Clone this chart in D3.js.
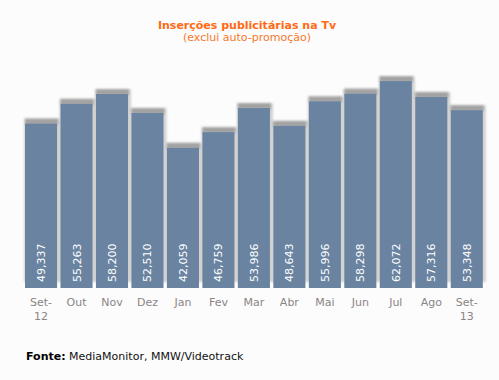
<!DOCTYPE html>
<html><head><meta charset="utf-8">
<script src="https://cdn.jsdelivr.net/npm/d3@7"></script>
<style>
html,body{margin:0;padding:0;background:#fcfcfc;}
svg{display:block;font-family:"DejaVu Sans",Verdana,sans-serif;}
</style></head>
<body>
<script>
const categories = [["Set-","12"],["Out"],["Nov"],["Dez"],["Jan"],["Fev"],["Mar"],["Abr"],["Mai"],["Jun"],["Jul"],["Ago"],["Set-","13"]];
const values = [49337,55263,58200,52510,42059,46759,53986,48643,55996,58298,62072,57316,53348];
const title = "Inserções publicitárias na Tv";
const subtitle = "(exclui auto-promoção)";
const sourceLabel = "Fonte:";
const sourceText = " MediaMonitor, MMW/Videotrack";

const W = 499, H = 380;
const svg = d3.select("body").append("svg").attr("width", W).attr("height", H);
svg.append("rect").attr("width", W).attr("height", H).attr("fill", "#fcfcfc");

const defs = svg.append("defs");
defs.append("filter").attr("id","blur").attr("x","-20%").attr("y","-20%").attr("width","140%").attr("height","140%")
  .append("feGaussianBlur").attr("stdDeviation", 0.8);

const idx = d3.range(values.length);
const x = d3.scaleBand().domain(idx).range([25, 482.8]).paddingInner(0.096).paddingOuter(0);
const y = d3.scaleLinear().domain([0, 70000]).range([288, 54.67]);
const bw = x.bandwidth();

svg.append("text").attr("x", 247).attr("y", 29).attr("text-anchor","middle")
  .attr("font-size", 11).attr("font-weight","bold").attr("fill","#ff6a13").text(title);
svg.append("text").attr("x", 247).attr("y", 41).attr("text-anchor","middle")
  .attr("font-size", 11).attr("fill","#f7782a").text(subtitle);

const sh = svg.append("g").attr("filter","url(#blur)");
sh.selectAll("rect.side").data(idx).join("rect").attr("class","side")
  .attr("x", i => x(i) - 1).attr("y", i => y(values[i]) - 5)
  .attr("width", bw + 4).attr("height", i => y(0) - 6 - (y(values[i]) - 5))
  .attr("fill", "#d2d2d2");
sh.selectAll("rect.top").data(idx).join("rect").attr("class","top")
  .attr("x", i => x(i)).attr("y", i => y(values[i]) - 5)
  .attr("width", bw + 1).attr("height", 6)
  .attr("fill", "#a2a2a2");

svg.append("g").selectAll("rect").data(idx).join("rect")
  .attr("x", i => x(i)).attr("y", i => y(values[i]))
  .attr("width", bw).attr("height", i => y(0) - y(values[i]))
  .attr("fill", "#6983a0");

const fmt = d3.format(",");
svg.append("g").selectAll("text").data(idx).join("text")
  .attr("transform", i => `translate(${x(i) + bw/2 + 4},282) rotate(-90)`)
  .attr("font-size", 11).attr("fill", "#ffffff")
  .text(i => fmt(values[i]));

const lab = svg.append("g").selectAll("text").data(idx).join("text")
  .attr("x", i => x(i) + bw/2).attr("y", 306).attr("text-anchor","middle")
  .attr("font-size", 11).attr("fill", "#8a8585");
lab.each(function(i){
  const t = d3.select(this);
  categories[i].forEach((s, k) => {
    t.append("tspan").attr("x", x(i) + bw/2).attr("dy", k === 0 ? 0 : 14).text(s);
  });
});

const src = svg.append("text").attr("x", 26).attr("y", 360).attr("font-size", 11).attr("fill", "#111");
src.append("tspan").attr("font-weight","bold").attr("fill","#000").text(sourceLabel);
src.append("tspan").text(sourceText);
</script>
</body></html>
